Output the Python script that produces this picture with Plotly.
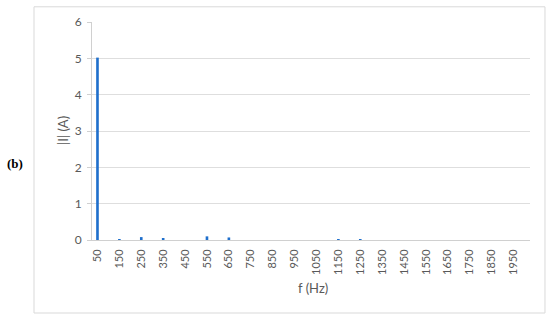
import plotly.graph_objects as go

# 고조파 주파수 (Hz) 와 전류 크기 (A)
freqs = [50, 100, 150, 200, 250, 300, 350, 400, 450, 500,
         550, 600, 650, 700, 750, 800, 850, 900, 950, 1000,
         1050, 1100, 1150, 1200, 1250, 1300, 1350, 1400, 1450, 1500,
         1550, 1600, 1650, 1700, 1750, 1800, 1850, 1900, 1950, 2000]
current = [5.02, 0.0, 0.005, 0.0, 0.08, 0.0, 0.04, 0.0, 0.0, 0.0,
           0.10, 0.0, 0.07, 0.0, 0.0, 0.0, 0.0, 0.0, 0.0, 0.0,
           0.0, 0.0, 0.02, 0.0, 0.02, 0.0, 0.0, 0.0, 0.0, 0.0,
           0.0, 0.0, 0.0, 0.0, 0.0, 0.0, 0.0, 0.0, 0.0, 0.0]
tick_labels = ["50", "150", "250", "350", "450", "550", "650", "750", "850", "950",
               "1050", "1150", "1250", "1350", "1450", "1550", "1650", "1750", "1850", "1950"]
y_ticks = [0, 1, 2, 3, 4, 5, 6]

cats = [str(f) for f in freqs]

fig = go.Figure()
fig.add_trace(go.Bar(
    x=cats,
    y=current,
    marker=dict(color="#1f6fcc", line=dict(width=0)),
))

font_main = "Lato, 'Open Sans', sans-serif"

fig.update_layout(
    width=550,
    height=320,
    margin=dict(l=92, r=20, t=22, b=80),
    paper_bgcolor="white",
    plot_bgcolor="white",
    bargap=0.76,
    showlegend=False,
    font=dict(family=font_main, size=11, color="#595959"),
    xaxis=dict(
        type="category",
        categoryorder="array",
        categoryarray=cats,
        tickmode="array",
        tickvals=tick_labels,
        ticktext=tick_labels,
        tickangle=-90,
        showgrid=False,
        showline=True,
        linecolor="#d0d0d0",
        linewidth=1,
        ticks="",
        ticklabelstandoff=4,
        tickfont=dict(size=11, color="#595959"),
    ),
    yaxis=dict(
        range=[0, 6],
        tickvals=y_ticks,
        showgrid=True,
        gridcolor="#dedede",
        gridwidth=1,
        zeroline=False,
        showline=True,
        linecolor="#d0d0d0",
        linewidth=1,
        ticks="outside",
        ticklen=4,
        tickcolor="#d0d0d0",
        ticklabelstandoff=3,
        tickfont=dict(size=12, color="#595959"),
    ),
    shapes=[dict(
        type="rect", xref="paper", yref="paper",
        x0=-0.1324, x1=1.0342, y0=-0.3349, y1=1.0697,
        line=dict(color="#d9d9d9", width=1),
        fillcolor="rgba(0,0,0,0)",
    )],
    annotations=[
        dict(text="|I| (A)", xref="paper", yref="paper", x=-0.066, y=0.5,
             xanchor="center", yanchor="middle",
             textangle=-90, showarrow=False,
             font=dict(family=font_main, size=13, color="#595959")),
        dict(text="f (Hz)", xref="paper", yref="paper", x=0.505, y=-0.22,
             xanchor="center", yanchor="middle",
             showarrow=False,
             font=dict(family=font_main, size=13, color="#595959")),
        dict(text="<b>(b)</b>", xref="paper", yref="paper", x=-0.176, y=0.353,
             xanchor="center", yanchor="middle",
             showarrow=False,
             font=dict(family="'Liberation Serif', serif", size=13, color="#000000")),
    ],
)

fig.write_html("out.html", config={"displayModeBar": False},
               post_script="document.body.style.margin='0px';")
